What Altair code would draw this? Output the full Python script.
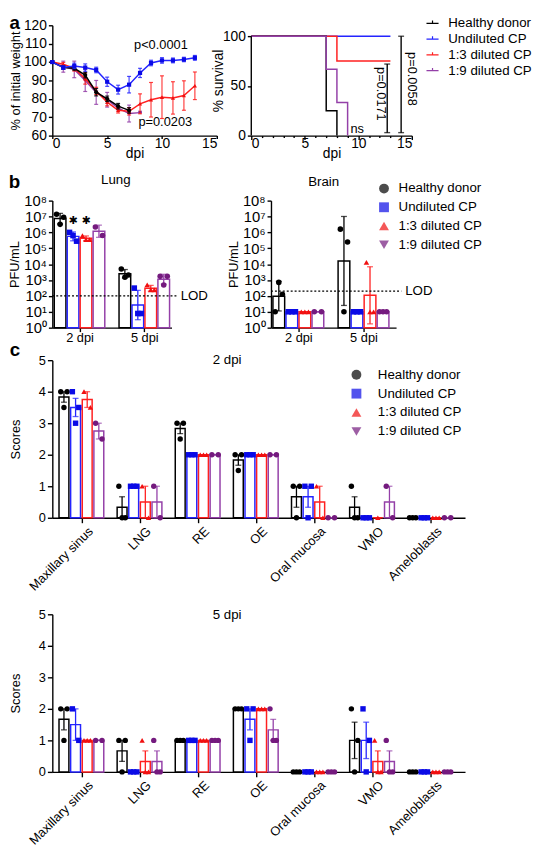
import json
import altair as alt
import pandas as pd
import numpy as np

FONT = "Liberation Sans"

groups = ["Healthy donor", "Undiluted CP", "1:3 diluted CP", "1:9 diluted CP"]
line_colors = ["#000000", "#2424ff", "#ff2020", "#9440a8"]
point_colors = ["#000000", "#0a0ae6", "#f01010", "#741a7e"]
legend_shapes = ["circle", "square", "triangle-up", "triangle-down"]
point_shapes = ["circle", "square", "triangle-up", "circle"]

# ---------------- a: body weight (% of initial) ----------------
weight_hd = [100, 97, 96.6, 92.9, 83.6, 80, 76, 73.7]
weight_hd_err = [0.5, 1, 1, 1.5, 2, 1.5, 1.5, 1.5]
weight_und = [100, 97, 97.9, 97, 95.7, 89.3, 85, 87.7, 94.1, 99.5, 100.9, 100.9, 101.4, 102.3]
weight_und_err = [0.5, 1, 1.5, 2, 1.5, 2.5, 2.4, 4.5, 2.5, 1.5, 1.5, 1.3, 1.2, 1.3]
weight_13 = [100, 98.8, 96.6, 91, 84.3, 78.2, 73.8, 73.2, 77.3, 79.5, 80.9, 80.5, 81.8, 87.1]
weight_13_err = [0.5, 1, 1.5, 3, 2, 2, 1.5, 2, 5.4, 9.4, 11.6, 8.8, 8, 7.5]
weight_19 = [100, 97.5, 96, 90, 83.5, 79.5, 75, 72, 72.5]
weight_19_err = [0.5, 3, 4.5, 6, 6.5, 4, 1, 4.6, 0]
weight_pvals = ["p<0.0001", "p=0.0203"]
weight_pval_day = [9.9, 10.3]
weight_pval_y = [109.5, 67.5]

# ---------------- a: survival ----------------
surv_hd_t = [0, 7, 8]
surv_hd_s = [100, 25, 0]
surv_und_t = [0, 13]
surv_und_s = [100, 100]
surv_13_t = [0, 8, 13]
surv_13_s = [100, 75, 75]
surv_19_t = [0, 7, 8, 9]
surv_19_s = [100, 66.7, 33.3, 0]
surv_brackets_x = [12.7, 14.0]
surv_brackets_lo = [3, 3]
surv_brackets_hi = [72, 100]
surv_pvals = ["p=0.0171", "p=0.0058"]
surv_pval_x = [12.1, 15.0]
surv_pval_y = [42, 57]

# ---------------- b: viral titers (PFU/mL) ----------------
dpi_labels = ["2 dpi", "5 dpi"]
lung_2dpi = [[1.4e7, 9e6, 3.2e6], [1.0e6, 2.8e5, 6.3e5], [6.3e5, 3.5e5, 3.5e5], [2.2e6, 6.3e5]]
lung_5dpi = [[4.9e3, 2.1e3, 1.5e3], [3.1e2, 7.8, 7.8], [4.9e2, 2.4e2, 2.4e2], [1.7e3, 1.7e3, 4.9e2]]
brain_2dpi = [[10, 126, 710], [10, 10, 10], [10, 10, 10], [10, 10]]
brain_5dpi = [[1.6e6, 2.5e5, 10], [10, 10, 10], [1.3e4, 10, 10], [10, 10, 10]]
lung_lod = 100
brain_lod = 200
lung_star_groups = [1, 2]
lung_star_y = 5e6

# ---------------- c: histopathology scores ----------------
organs = ["Maxillary sinus", "LNG", "RE", "OE", "Oral mucosa", "VMO", "Ameloblasts"]
s2_hd = [[4, 4, 3.5], [1, 0, 0], [3, 3, 2.5], [2, 2, 1.5], [1, 1, 0], [1, 0, 0], [0, 0, 0]]
s2_und = [[4, 3.5, 3], [1, 1, 1], [2, 2, 2], [2, 2, 2], [1, 1, 0], [0, 0, 0], [0, 0, 0]]
s2_13 = [[4, 3.5], [1, 0], [2, 2, 2], [2, 2, 2], [1, 0], [0], [0, 0, 0]]
s2_19 = [[3, 2.5], [1, 0], [2, 2], [2, 2], [0, 0], [1, 0], [0, 0]]
s5_hd = [[2, 2, 1], [1, 1, 0], [1, 1, 1], [2, 2, 2], [0, 0, 0], [2, 1, 0], [0, 0, 0]]
s5_und = [[2, 1], [0, 0, 0], [1, 1, 1], [2, 2, 1], [0, 0, 0], [2, 1, 0], [0, 0, 0]]
s5_13 = [[1, 1, 1], [1, 0, 0], [1, 1, 1], [2, 2, 2], [0, 0, 0], [1, 0, 0], [0, 0, 0]]
s5_19 = [[1, 1], [1, 0, 0], [1, 1, 1], [2, 1, 1], [0, 0, 0], [1, 0, 0], [0, 0, 0]]

rep_offsets = {1: [0.0], 2: [-0.055, 0.055], 3: [-0.055, 0.055, 0.0]}
GROUP_STEP = 0.2


def axis_style(fs=13, tfs=13, tick=5):
    return dict(labelFontSize=fs, titleFontSize=tfs, labelColor="black",
                titleColor="black", domainColor="black", tickColor="black",
                domainWidth=1.4, tickWidth=1.4, tickSize=tick, grid=False,
                titleFontWeight="normal", labelFont=FONT, titleFont=FONT)


def letter(t, offset):
    return alt.TitleParams(t, anchor="start", frame="bounds", fontSize=19,
                           fontWeight="bold", font=FONT, offset=offset, color="black")


# ======================= panel a: weight =======================
wrows = []
for gi, (m, e) in enumerate([(weight_hd, weight_hd_err), (weight_und, weight_und_err),
                             (weight_13, weight_13_err), (weight_19, weight_19_err)]):
    for d, (mm, ee) in enumerate(zip(m, e)):
        wrows.append(dict(group=groups[gi], gi=gi, day=d, mean=mm, lo=mm - ee, hi=mm + ee,
                          lc=line_colors[gi], pc=point_colors[gi], shp=legend_shapes[gi]))
wdf = pd.DataFrame(wrows)

wxs = alt.Scale(domain=[0, 15], nice=False)
wys = alt.Scale(domain=[60, 120], nice=False)
wx_axis = alt.Axis(values=[0, 5, 10, 15], title="dpi", titlePadding=-4, labelPadding=-2,
                   **axis_style(14, 14, 3))
wy_axis = alt.Axis(values=list(range(60, 121, 10)), title="% of initial weight", titlePadding=1,
                   labelPadding=2, **axis_style(14, 13, 4))

wlayers = []
for gi in [3, 2, 0, 1]:
    sub = alt.Chart(wdf).transform_filter(f"datum.gi == {gi}")
    wlayers.append(sub.mark_errorbar(ticks=True, size=4, thickness=1.2, opacity=0.85).encode(
        x=alt.X("day:Q", scale=wxs, axis=wx_axis),
        y=alt.Y("lo:Q", scale=wys, axis=wy_axis),
        y2="hi:Q",
        color=alt.Color("lc:N", scale=None)))
    wlayers.append(sub.mark_line(strokeWidth=1.5).encode(
        x=alt.X("day:Q", scale=wxs, axis=wx_axis),
        y=alt.Y("mean:Q", scale=wys, axis=wy_axis),
        color=alt.Color("lc:N", scale=None)))
    wlayers.append(sub.mark_point(filled=True, size=18, opacity=1).encode(
        x=alt.X("day:Q", scale=wxs, axis=wx_axis),
        y=alt.Y("mean:Q", scale=wys, axis=wy_axis),
        color=alt.Color("pc:N", scale=None),
        shape=alt.Shape("shp:N", scale=None)))

wp = pd.DataFrame({"t": weight_pvals, "d": weight_pval_day, "v": weight_pval_y})
wlayers.append(alt.Chart(wp).mark_text(fontSize=13, font=FONT, color="black").encode(
    x=alt.X("d:Q", scale=wxs, axis=wx_axis), y=alt.Y("v:Q", scale=wys, axis=wy_axis), text="t:N"))

weight = alt.layer(*wlayers).properties(width=167, height=112, title=letter("a", -15))

# ======================= panel a: survival =======================
srows = []
for gi, (tt, ss) in enumerate([(surv_hd_t, surv_hd_s), (surv_und_t, surv_und_s),
                               (surv_13_t, surv_13_s), (surv_19_t, surv_19_s)]):
    for k, (t, s) in enumerate(zip(tt, ss)):
        srows.append(dict(group=groups[gi], gi=gi, t=t, s=s, k=k, lc=line_colors[gi]))
sdf = pd.DataFrame(srows)

sxs = alt.Scale(domain=[0, 15], nice=False)
sys_ = alt.Scale(domain=[0, 111], nice=False)
sx_style = axis_style(14, 14, 4)
sx_style.pop("tickSize")
sx_axis = alt.Axis(values=list(range(16)), title="dpi", titlePadding=-4, labelPadding=-3,
                   labelExpr="datum.value % 5 === 0 ? datum.label : ''",
                   tickSize={"condition": {"test": "datum.value % 5 === 0", "value": 4}, "value": 2},
                   **sx_style)
sy_axis = alt.Axis(values=[0, 50, 100], title="% survival", titlePadding=-3, labelPadding=2,
                   domain=False, **axis_style(14, 14, 4))

slayers = []
for gi in [1, 2, 0, 3]:
    sub = alt.Chart(sdf).transform_filter(f"datum.gi == {gi}")
    slayers.append(sub.mark_line(interpolate="step-after", strokeWidth=1.5).encode(
        x=alt.X("t:Q", scale=sxs, axis=sx_axis),
        y=alt.Y("s:Q", scale=sys_, axis=sy_axis),
        order="k:Q",
        color=alt.Color("lc:N", scale=None)))

yaxis_line = pd.DataFrame({"a": [0], "b": [100]})
slayers.append(alt.Chart(yaxis_line).mark_rule(color="black", strokeWidth=1.4).encode(
    x=alt.X(datum=0, scale=sxs, axis=sx_axis),
    y=alt.Y("a:Q", scale=sys_, axis=sy_axis), y2="b:Q"))

bdf = pd.DataFrame({"x": surv_brackets_x, "lo": surv_brackets_lo, "hi": surv_brackets_hi})
slayers.append(alt.Chart(bdf).mark_errorbar(ticks=True, size=6, thickness=1.4, color="black").encode(
    x=alt.X("x:Q", scale=sxs, axis=sx_axis), y=alt.Y("lo:Q", scale=sys_, axis=sy_axis), y2="hi:Q"))
spv = pd.DataFrame({"t": surv_pvals, "x": surv_pval_x, "y": surv_pval_y})
slayers.append(alt.Chart(spv).mark_text(fontSize=13, font=FONT, angle=90, color="black").encode(
    x=alt.X("x:Q", scale=sxs, axis=sx_axis), y=alt.Y("y:Q", scale=sys_, axis=sy_axis), text="t:N"))
slayers.append(alt.Chart(pd.DataFrame({"t": ["ns"], "x": [9.9], "y": [7]})).mark_text(
    fontSize=13, font=FONT, color="black").encode(
    x=alt.X("x:Q", scale=sxs, axis=sx_axis), y=alt.Y("y:Q", scale=sys_, axis=sy_axis), text="t:N"))

leg_a = alt.Chart(pd.DataFrame({"ga": groups})).mark_line(strokeWidth=1.2).encode(
    color=alt.Color("ga:N", scale=alt.Scale(domain=groups, range=line_colors),
                    legend=alt.Legend(title=None, orient="none", legendX=177, legendY=-9,
                                      symbolType="M-1,0L1,0M0,0L0,-0.45", symbolSize=150,
                                      symbolStrokeWidth=1.2, labelFontSize=13.5, labelFont=FONT,
                                      labelColor="black", rowPadding=2, labelOffset=9))
).transform_filter("false")
slayers.append(leg_a)

survival = alt.layer(*slayers).properties(width=163, height=112)

rowA = alt.hconcat(weight, survival, spacing=-7).resolve_scale(color="independent", shape="independent")


# ======================= panel b =======================
def pfu_chart(name, d2, d5, lod, legend, width, xmax, title_dx, title_offset):
    rows = []
    for di, dset in enumerate([d2, d5]):
        for gi, vals in enumerate(dset):
            offs = rep_offsets[len(vals)]
            for r, v in enumerate(vals):
                xc = di + (gi - 1.5) * GROUP_STEP
                rows.append(dict(di=di, gi=gi, v=v, lv=np.log10(v), xp=xc + offs[r],
                                 pc=point_colors[gi], shp=point_shapes[gi]))
    pdf = pd.DataFrame(rows)
    agg = pdf.groupby(["di", "gi"]).agg(m=("lv", "mean"), sd=("lv", "std")).reset_index().fillna(0)
    agg["xc"] = agg["di"] + (agg["gi"] - 1.5) * GROUP_STEP
    agg["x1"] = agg["xc"] - 0.09
    agg["x2"] = agg["xc"] + 0.09
    agg["gm"] = 10 ** agg["m"]
    agg["lo"] = 10 ** (agg["m"] - agg["sd"])
    agg["hi"] = 10 ** (agg["m"] + agg["sd"])
    agg["base"] = 1.0
    agg["lc"] = [line_colors[g] for g in agg["gi"]]

    xs = alt.Scale(domain=[-0.42, xmax], nice=False, zero=False)
    ys = alt.Scale(type="log", domain=[1, 1e8], nice=False)
    sup = ["10⁰", "10¹", "10²", "10³", "10⁴", "10⁵", "10⁶", "10⁷", "10⁸"]
    xa = alt.Axis(values=[0, 1], title=None, labelPadding=0,
                  labelExpr=json.dumps(dpi_labels) + "[datum.value]", **axis_style(13, 13, 4))
    ya = alt.Axis(values=[10 ** k for k in range(9)], title="PFU/mL", titlePadding=2, labelPadding=2,
                  labelExpr=json.dumps(sup, ensure_ascii=False) + "[round(log(datum.value)/LN10)]",
                  **axis_style(15, 13, 4))
    L = []
    L.append(alt.Chart(agg).mark_rect(fill="white", strokeWidth=1.5).encode(
        x=alt.X("x1:Q", scale=xs, axis=xa), x2="x2:Q",
        y=alt.Y("gm:Q", scale=ys, axis=ya), y2="base:Q",
        stroke=alt.Stroke("lc:N", scale=None)))
    L.append(alt.Chart(agg).mark_errorbar(ticks=True, size=6, thickness=1.3).encode(
        x=alt.X("xc:Q", scale=xs, axis=xa),
        y=alt.Y("lo:Q", scale=ys, axis=ya), y2="hi:Q",
        color=alt.Color("lc:N", scale=None)))
    L.append(alt.Chart(pdf).mark_point(filled=True, size=32, opacity=1).encode(
        x=alt.X("xp:Q", scale=xs, axis=xa),
        y=alt.Y("v:Q", scale=ys, axis=ya),
        color=alt.Color("pc:N", scale=None),
        shape=alt.Shape("shp:N", scale=None)))
    lodd = pd.DataFrame({"a": [-0.42], "b": [xmax + 0.08], "y": [lod], "t": ["LOD"]})
    L.append(alt.Chart(lodd).mark_rule(strokeDash=[2, 2], strokeWidth=1.2, color="black", clip=False).encode(
        x=alt.X("a:Q", scale=xs, axis=xa), x2="b:Q", y=alt.Y("y:Q", scale=ys, axis=ya)))
    L.append(alt.Chart(lodd).mark_text(fontSize=13.5, font=FONT, align="left", dx=4, color="black").encode(
        x=alt.X("b:Q", scale=xs, axis=xa), y=alt.Y("y:Q", scale=ys, axis=ya), text="t:N"))
    if name == "Lung":
        st = pd.DataFrame({"xc": [(g - 1.5) * GROUP_STEP for g in lung_star_groups],
                           "y": [lung_star_y] * len(lung_star_groups), "t": ["✱"] * len(lung_star_groups)})
        L.append(alt.Chart(st).mark_text(fontSize=11, font="DejaVu Sans", color="black").encode(
            x=alt.X("xc:Q", scale=xs, axis=xa), y=alt.Y("y:Q", scale=ys, axis=ya), text="t:N"))
    if legend:
        lg = alt.Legend(title=None, orient="none", legendX=108, legendY=-19,
                        labelFontSize=13.5, labelFont=FONT, labelColor="black",
                        rowPadding=4, labelOffset=8)
        L.append(alt.Chart(pd.DataFrame({"gb": groups})).mark_point(filled=True, size=22, opacity=1).encode(
            color=alt.Color("gb:N", scale=alt.Scale(domain=groups, range=point_colors), legend=lg),
            shape=alt.Shape("gb:N", scale=alt.Scale(domain=groups, range=legend_shapes), legend=lg)
        ).transform_filter("false"))
    return alt.layer(*L).properties(
        width=width, height=129,
        title=alt.TitleParams(name, fontSize=13.5, fontWeight="normal", font=FONT, dx=title_dx,
                              offset=title_offset, color="black"))


lung = pfu_chart("Lung", lung_2dpi, lung_5dpi, lung_lod, False, 121, 1.42, 4, 7)
brain = pfu_chart("Brain", brain_2dpi, brain_5dpi, brain_lod, True, 127, 1.5, -10, -7)
rowB = alt.hconcat(lung, brain, spacing=18, title=letter("b", -19)).resolve_scale(
    color="independent", shape="independent")


# ======================= panel c =======================
def score_chart(title, sets, legend, title_offset, bottom_pad):
    rows = []
    for gi, dset in enumerate(sets):
        for oi, vals in enumerate(dset):
            offs = rep_offsets[len(vals)]
            for r, v in enumerate(vals):
                xc = oi + (gi - 1.5) * GROUP_STEP
                rows.append(dict(oi=oi, gi=gi, v=v, xp=xc + offs[r], pc=point_colors[gi], shp=point_shapes[gi]))
    pdf = pd.DataFrame(rows)
    agg = pdf.groupby(["oi", "gi"]).agg(m=("v", "mean"), sd=("v", "std"), n=("v", "count")).reset_index().fillna(0)
    agg["se"] = agg["sd"] / np.sqrt(agg["n"])
    agg["xc"] = agg["oi"] + (agg["gi"] - 1.5) * GROUP_STEP
    agg["x1"] = agg["xc"] - 0.085
    agg["x2"] = agg["xc"] + 0.085
    agg["lo"] = agg["m"] - agg["se"]
    agg["hi"] = agg["m"] + agg["se"]
    agg["base"] = 0.0
    agg["lc"] = [line_colors[g] for g in agg["gi"]]

    xs = alt.Scale(domain=[-0.5, 6.6], nice=False, zero=False)
    ys = alt.Scale(domain=[0, 5], nice=False)
    xa = alt.Axis(values=list(range(7)), title=" ", titlePadding=bottom_pad, labelAngle=-45, labelAlign="right",
                  labelBaseline="top", labelPadding=2, labelOffset=5, labelOverlap=False,
                  labelExpr=json.dumps(organs) + "[datum.value]", **axis_style(13, 13, 5))
    ya = alt.Axis(values=list(range(6)), title="Scores", titlePadding=16, labelPadding=2, **axis_style(13, 13, 5))
    L = []
    L.append(alt.Chart(agg).mark_rect(fill="white", strokeWidth=1.5).encode(
        x=alt.X("x1:Q", scale=xs, axis=xa), x2="x2:Q",
        y=alt.Y("m:Q", scale=ys, axis=ya), y2="base:Q",
        stroke=alt.Stroke("lc:N", scale=None)))
    L.append(alt.Chart(agg).mark_errorbar(ticks=True, size=6, thickness=1.3).encode(
        x=alt.X("xc:Q", scale=xs, axis=xa),
        y=alt.Y("lo:Q", scale=ys, axis=ya), y2="hi:Q",
        color=alt.Color("lc:N", scale=None)))
    L.append(alt.Chart(pdf).mark_point(filled=True, size=30, opacity=1).encode(
        x=alt.X("xp:Q", scale=xs, axis=xa),
        y=alt.Y("v:Q", scale=ys, axis=ya),
        color=alt.Color("pc:N", scale=None),
        shape=alt.Shape("shp:N", scale=None)))
    if legend:
        lg = alt.Legend(title=None, orient="none", legendX=302, legendY=8,
                        labelFontSize=13.5, labelFont=FONT, labelColor="black",
                        rowPadding=4.2, labelOffset=15)
        L.append(alt.Chart(pd.DataFrame({"gc": groups})).mark_point(filled=True, size=22, opacity=1).encode(
            color=alt.Color("gc:N", scale=alt.Scale(domain=groups, range=point_colors), legend=lg),
            shape=alt.Shape("gc:N", scale=alt.Scale(domain=groups, range=legend_shapes), legend=lg)
        ).transform_filter("false"))
    return alt.layer(*L).properties(
        width=419, height=160,
        title=alt.TitleParams(title, fontSize=13.5, fontWeight="normal", font=FONT, dx=-32,
                              offset=title_offset, color="black"))


c1 = score_chart("2 dpi", [s2_hd, s2_und, s2_13, s2_19], True, -12, 5)
c2 = score_chart("5 dpi", [s5_hd, s5_und, s5_13, s5_19], False, -13, 0)
rowC1 = alt.vconcat(c1, title=letter("c", -7))

lower = alt.concat(rowB, rowC1, c2, columns=1, spacing=-4, align="none").resolve_scale(
    color="independent", shape="independent")

fig = alt.concat(rowA, lower, columns=1, spacing=13, align="none").resolve_scale(
    color="independent", shape="independent").properties(padding=0).configure(
    font=FONT).configure_view(stroke=None).configure_axis(labelFont=FONT, titleFont=FONT)

fig.save("out.html", embed_options={"renderer": "svg", "actions": False})
